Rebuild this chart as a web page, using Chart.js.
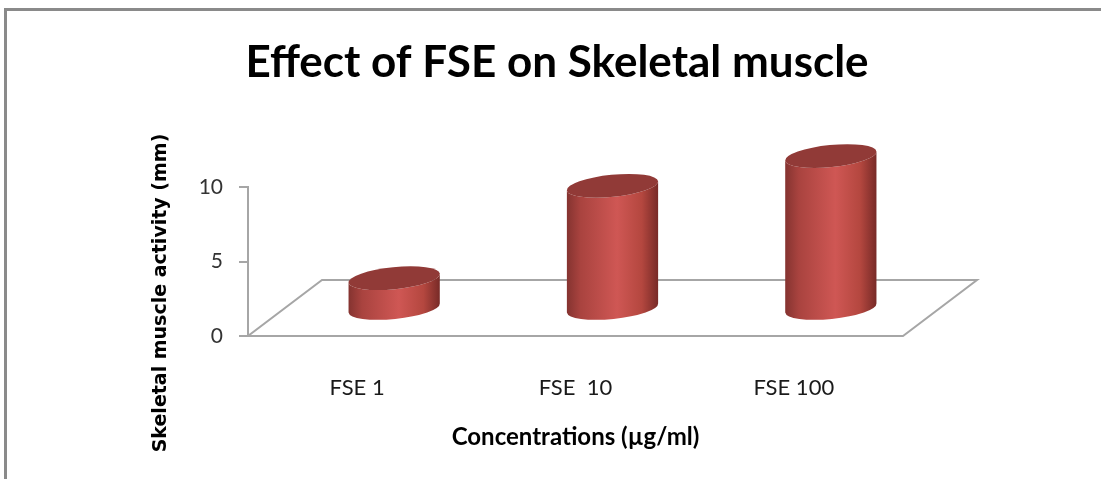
<!DOCTYPE html>
<html>
<head>
<meta charset="utf-8">
<script src="https://cdn.jsdelivr.net/npm/chart.js@4.4.1/dist/chart.umd.min.js"></script>
<style>
  html, body { margin: 0; padding: 0; background: #fff; }
  canvas { display: block; }
</style>
</head>
<body>
<canvas id="chart" width="1101" height="479"></canvas>
<script>
// datos
const categories = ["FSE 1", "FSE  10", "FSE 100"];
const activity = [2.0, 8.2, 10.2];
const yTickValues = [0, 5, 10];

const chartTitle = "Effect of FSE on Skeletal muscle";
const xTitle = "Concentrations (\u00b5g/ml)";
const yTitle = "Skeletal muscle activity (mm)";

// profundidad del "suelo" 3D
const depthX = 74;
const depthY = 56;

// marco gris arriba e izquierda
const framePlugin = {
    id: "frame",
    beforeDraw(chart) {
        const c = chart.ctx;
        c.save();
        c.fillStyle = "#8a8a8a";
        c.fillRect(4, 8, chart.width - 4, 3);
        c.fillRect(4, 8, 3, chart.height - 8);
        c.restore();
    }
};

// suelo en perspectiva
const floorPlugin = {
    id: "floor",
    beforeDatasetsDraw(chart) {
        const { left, right, bottom } = chart.chartArea;
        const c = chart.ctx;
        c.save();
        c.strokeStyle = "#a6a6a6";
        c.lineWidth = 2;
        c.beginPath();
        c.moveTo(left, bottom);
        c.lineTo(right, bottom);
        c.lineTo(right + depthX, bottom - depthY);
        c.lineTo(left + depthX, bottom - depthY);
        c.closePath();
        c.stroke();
        c.restore();
    }
};

// cilindros dibujados sobre las barras (invisibles)
const cylinderPlugin = {
    id: "cylinders",
    afterDatasetsDraw(chart) {
        const c = chart.ctx;
        const yScale = chart.scales.y;
        const meta = chart.getDatasetMeta(0);
        const base = yScale.getPixelForValue(0);
        const rot = -0.1;
        meta.data.forEach(bar => {
            const cx = bar.x + depthX / 2;
            const rx = bar.width / 2;
            const ry = 11;
            const yb = base - depthY / 2;
            const yt = bar.y - depthY / 2;
            const cos = Math.cos(rot), sin = Math.sin(rot);

            const g = c.createLinearGradient(cx - rx, 0, cx + rx, 0);
            g.addColorStop(0, "#843330");
            g.addColorStop(0.15, "#a9433f");
            g.addColorStop(0.55, "#cf5754");
            g.addColorStop(0.82, "#b4473f");
            g.addColorStop(1, "#772a27");

            c.save();
            c.beginPath();
            c.moveTo(cx - rx * cos, yt - rx * sin);
            c.lineTo(cx - rx * cos, yb - rx * sin);
            c.ellipse(cx, yb, rx, ry, rot, Math.PI, 0, true);
            c.lineTo(cx + rx * cos, yt + rx * sin);
            c.ellipse(cx, yt, rx, ry, rot, 0, Math.PI, false);
            c.closePath();
            c.fillStyle = g;
            c.fill();

            c.beginPath();
            c.ellipse(cx, yt, rx, ry, rot, 0, Math.PI * 2);
            c.fillStyle = "#913a37";
            c.fill();
            c.restore();
        });
    }
};

// titulo principal y titulo del eje Y (colocados a mano)
const textPlugin = {
    id: "texts",
    afterDraw(chart) {
        const c = chart.ctx;
        c.save();
        c.fillStyle = "#000";
        c.textAlign = "center";
        c.textBaseline = "middle";
        c.font = "bold 44px Lato";
        c.fillText(chartTitle, 557, 63);

        c.translate(161, 293);
        c.rotate(-Math.PI / 2);
        c.font = "bold 19px 'DejaVu Sans'";
        c.fillText(yTitle, 0, 0);
        c.restore();
    }
};

const ctx = document.getElementById("chart").getContext("2d");
const chart = new Chart(ctx, {
    type: "bar",
    data: {
        labels: categories,
        datasets: [{
            label: "Skeletal muscle activity",
            data: activity,
            backgroundColor: "rgba(0,0,0,0)",
            borderWidth: 0,
            categoryPercentage: 1,
            barPercentage: 0.42
        }]
    },
    options: {
        responsive: false,
        animation: false,
        layout: { padding: { left: 188, right: 198, top: 187, bottom: 0 } },
        plugins: {
            legend: { display: false },
            tooltip: { enabled: false },
            title: { display: false }
        },
        scales: {
            x: {
                grid: { display: false },
                border: { display: false },
                ticks: { color: "#1a1a1a", font: { family: "Lato", size: 22 }, padding: 31 },
                title: {
                    display: true,
                    text: xTitle,
                    color: "#000",
                    font: { family: "Lato", size: 24, weight: "bold" },
                    padding: { top: 0, bottom: 27 }
                },
                afterFit: s => { s.height = 143; }
            },
            y: {
                min: 0,
                max: 10,
                afterBuildTicks: s => { s.ticks = yTickValues.map(v => ({ value: v })); },
                ticks: { color: "#333", font: { family: "Lato", size: 21 }, padding: 16 },
                grid: { drawOnChartArea: false, drawTicks: true, tickLength: 9, color: "#a6a6a6", lineWidth: 2 },
                border: { color: "#a6a6a6", width: 2 },
                afterFit: s => { s.width = 60; }
            }
        }
    },
    plugins: [framePlugin, floorPlugin, cylinderPlugin, textPlugin]
});
</script>
</body>
</html>
